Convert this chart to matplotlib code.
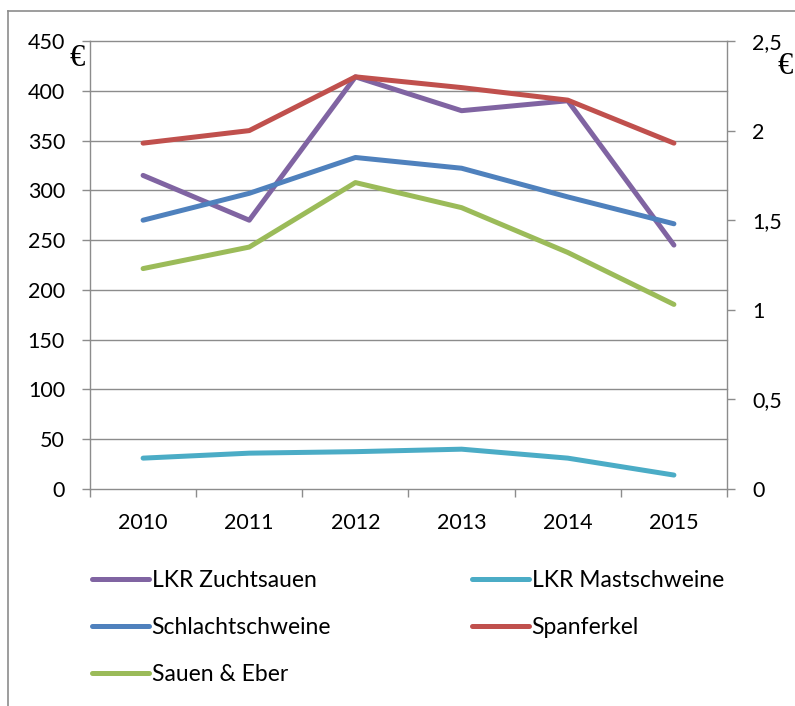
import matplotlib
matplotlib.use("Agg")
import matplotlib.pyplot as plt
from matplotlib.lines import Line2D

plt.rcParams['font.family'] = ['Lato', 'DejaVu Sans']

years = ["2010", "2011", "2012", "2013", "2014", "2015"]
# left axis (€ je Tier)
lkr_zuchtsauen = [315, 270, 414, 380, 390, 245]
lkr_mastschweine = [31, 36, 37.5, 40, 31, 14]
# right axis (€ je kg)
schlachtschweine = [1.50, 1.65, 1.85, 1.79, 1.63, 1.48]
spanferkel = [1.93, 2.00, 2.30, 2.24, 2.17, 1.93]
sauen_eber = [1.23, 1.35, 1.71, 1.57, 1.32, 1.03]

left_ticks = list(range(0, 451, 50))
right_ticks = [0, 0.5, 1, 1.5, 2, 2.5]
right_labels = ["0", "0,5", "1", "1,5", "2", "2,5"]

c_purple = "#8064A2"
c_cyan = "#4BACC6"
c_blue = "#4F81BD"
c_red = "#C0504D"
c_green = "#9BBB59"
grid_c = "#8C8C8C"

W, H = 795, 706
fig = plt.figure(figsize=(W / 100, H / 100), dpi=100)
ax = fig.add_axes([90 / W, 1 - 489 / H, 637 / W, 448 / H])
ax2 = ax.twinx()

x = list(range(len(years)))
lw = 3.6
kw = dict(lw=lw, solid_capstyle="round", solid_joinstyle="round")
h1, = ax.plot(x, lkr_zuchtsauen, color=c_purple, label="LKR Zuchtsauen", **kw)
h2, = ax.plot(x, lkr_mastschweine, color=c_cyan, label="LKR Mastschweine", **kw)
h3, = ax2.plot(x, schlachtschweine, color=c_blue, label="Schlachtschweine", **kw)
h4, = ax2.plot(x, spanferkel, color=c_red, label="Spanferkel", **kw)
h5, = ax2.plot(x, sauen_eber, color=c_green, label="Sauen & Eber", **kw)

ax.set_xlim(-0.5, len(years) - 0.5)
ax.set_ylim(0, 450)
ax2.set_ylim(0, 2.5)

for y in left_ticks:
    ax.axhline(y, color=grid_c, lw=1.0, zorder=0.5, clip_on=False)

ax.set_yticks(left_ticks)
ax.set_yticklabels([str(v) for v in left_ticks])
ax2.set_yticks(right_ticks)
ax2.set_yticklabels(right_labels)

ax.set_xticks([i - 0.5 for i in range(len(years) + 1)])
ax.set_xticklabels([])
ax.set_xticks(x, minor=True)
ax.set_xticklabels(years, minor=True)

fs = 15.5
ax.tick_params(axis="y", length=6, width=1, color=grid_c, pad=12, labelsize=fs)
ax.tick_params(axis="x", which="major", length=6, width=1, color=grid_c)
ax.tick_params(axis="x", which="minor", length=0, pad=17, labelsize=fs)
ax2.tick_params(axis="y", length=6, width=1, color=grid_c, pad=12, labelsize=fs)

for a in (ax, ax2):
    for s in ("top", "bottom"):
        a.spines[s].set_visible(False)
    a.spines["left"].set_color(grid_c)
    a.spines["right"].set_color(grid_c)
    a.spines["left"].set_linewidth(1.0)
    a.spines["right"].set_linewidth(1.0)
ax.spines["right"].set_visible(False)
ax2.spines["left"].set_visible(False)

# euro signs at the axes
fig.text(77 / W, 1 - 59 / H, "€", family=["Liberation Serif"], fontsize=22,
         ha="center", va="center")
fig.text(785 / W, 1 - 67 / H, "€", family=["Liberation Serif"], fontsize=22,
         ha="center", va="center")

# chart area border (left and top edge visible)
fig.add_artist(Line2D([8 / W, 8 / W], [0, 1 - 11 / H], color=grid_c, lw=1.2))
fig.add_artist(Line2D([8 / W, 1], [1 - 11 / H, 1 - 11 / H], color=grid_c, lw=1.2))

fig.legend([h1, h3, h5, h2, h4],
           [h.get_label() for h in (h1, h3, h5, h2, h4)],
           ncol=2, loc="upper left", bbox_to_anchor=(92 / W, 1 - 570 / H),
           frameon=False, fontsize=16.5, handlelength=2.5, handletextpad=0.1,
           labelspacing=1.14, columnspacing=6.15, borderpad=0, borderaxespad=0)

fig.savefig("out.png", dpi=100)
